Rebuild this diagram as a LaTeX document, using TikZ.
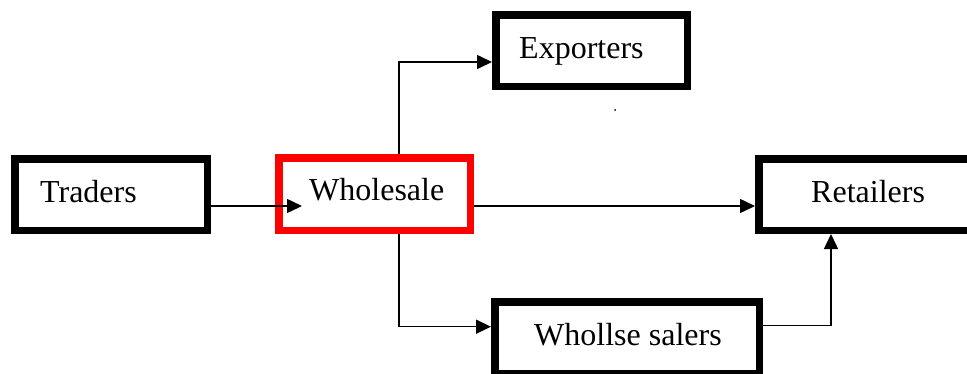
\documentclass[tikz,border=0pt]{standalone}
\usepackage{fontspec}
\setmainfont{Liberation Serif}
\usetikzlibrary{arrows.meta}
\begin{document}
\begin{tikzpicture}[x=1pt,y=-1pt,
  box/.style={draw=black, line width=7.5pt, inner sep=0pt, minimum height=71.5pt},
  redbox/.style={box, draw=red},
  lbl/.style={anchor=base west, inner sep=0pt, font=\fontsize{32}{38}\selectfont},
  arr/.style={line width=1.5pt, -{Triangle[length=15pt,width=14pt]}}]
\useasboundingbox (0,0) rectangle (967,373);
\fill[white] (0,0) rectangle (967,373);
% boxes
\node[box, minimum width=192.5pt] (tr) at (111,194.5) {};
\node[redbox, minimum width=191.5pt, minimum height=72.5pt] (wh) at (374.5,194) {};
\node[box, minimum width=191.5pt] (ex) at (591.5,50.5) {};
\node[box, minimum width=212.5pt] (re) at (865,194.5) {};
\node[box, minimum width=264.5pt] (ws) at (627,337.5) {};
% labels
\node[lbl] (trt) at (40,202) {Traders};
\node[lbl] (wht) at (309,200) {Wholesale};
\node[lbl] (ext) at (519,58) {Exporters};
\node[lbl] (ret) at (811,202) {Retailers};
\node[lbl] (wst) at (534,345) {Whollse salers};
% stray dot
\node[circle, fill=black, inner sep=0pt, minimum size=2pt] (dot) at (615,110) {};
% connectors
\draw[arr] ([yshift=-11.5pt]tr.east) -- ([xshift=27pt,yshift=-12pt]wh.west);
\draw[arr] ([yshift=-12pt]wh.east) -- ([yshift=-12pt]wh.east -| re.west);
\draw[arr] ([xshift=24.5pt]wh.north) |- ([yshift=-11.5pt]ex.west);
\draw[arr] ([xshift=24.5pt]wh.south) |- ([yshift=10.8pt]ws.west);
\draw[arr] ([yshift=11.8pt]ws.east) -| ([xshift=-34pt]re.south);
\end{tikzpicture}
\end{document}
